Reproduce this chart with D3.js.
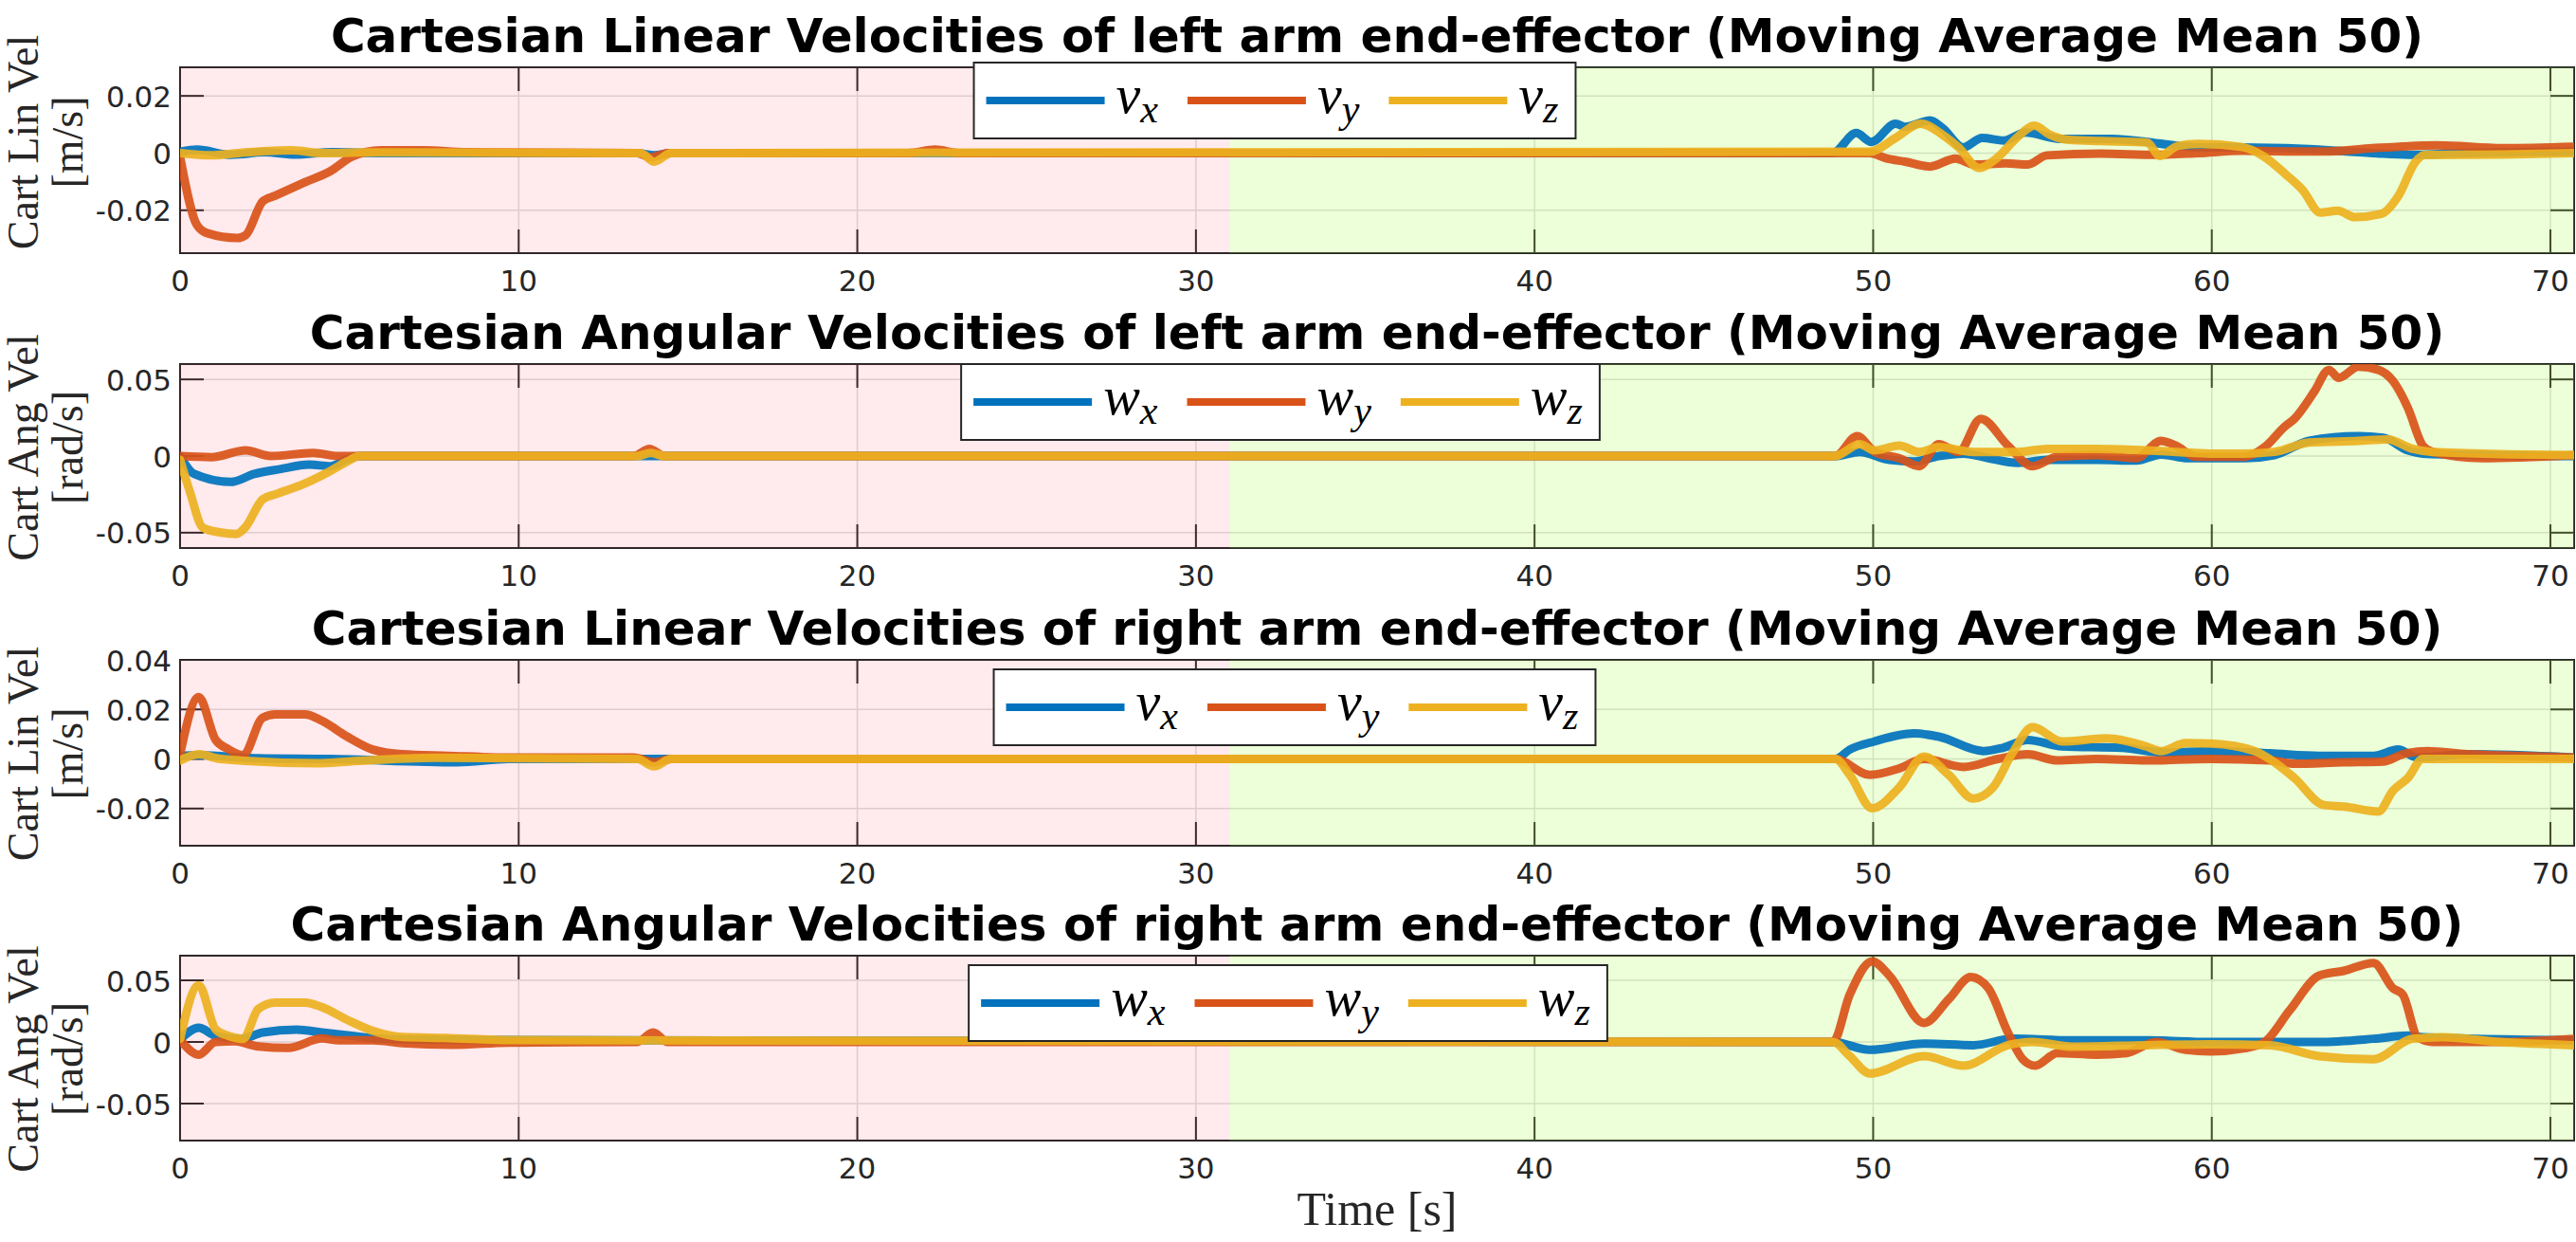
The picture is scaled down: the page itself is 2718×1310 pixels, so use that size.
<!DOCTYPE html>
<html><head><meta charset="utf-8">
<script src="https://cdn.jsdelivr.net/npm/d3@7"></script>
<style>
html,body{margin:0;padding:0;background:#fff;}
svg{display:block;}
</style></head>
<body>
<svg id="chart" width="2718" height="1310"></svg>
<script>
// ---------------- DATA ----------------
const panelTitles = [
  "Cartesian Linear Velocities of left arm end-effector (Moving Average Mean 50)",
  "Cartesian Angular Velocities of left arm end-effector (Moving Average Mean 50)",
  "Cartesian Linear Velocities of right arm end-effector (Moving Average Mean 50)",
  "Cartesian Angular Velocities of right arm end-effector (Moving Average Mean 50)"
];
const yLabelLine1 = ["Cart Lin Vel", "Cart Ang Vel", "Cart Lin Vel", "Cart Ang Vel"];
const yLabelLine2 = ["[m/s]", "[rad/s]", "[m/s]", "[rad/s]"];
const legendBase = ["v", "w", "v", "w"];
const legendSubs = ["x", "y", "z"];
const xDomain = [0, 70.7];
const xTicks = [0, 10, 20, 30, 40, 50, 60, 70];
const yDomains = [[-0.035, 0.03], [-0.06, 0.06], [-0.035, 0.04], [-0.08, 0.07]];
const yTicks = [[-0.02, 0, 0.02], [-0.05, 0, 0.05], [-0.02, 0, 0.02, 0.04], [-0.05, 0, 0.05]];
const yTickLabels = [["-0.02", "0", "0.02"], ["-0.05", "0", "0.05"], ["-0.02", "0", "0.02", "0.04"], ["-0.05", "0", "0.05"]];
const phaseStart = [0, 31];      // pink phase, green phase start times
const phaseEnd = [31, 70.7];

// left arm linear velocity [t, value]
const leftLinVx = [[0,0.0005],[0.5,0.0012],[1.5,-0.0006],[2.5,0.0003],[3.4,-0.0005],[4.5,0.0003],[6,0],[13.5,0],[14,-0.0008],[14.5,0],[30,0],[48.8,0],[49.5,0.007],[49.95,0.0039],[50.66,0.0103],[50.94,0.0092],[51.68,0.0114],[52.05,0.0087],[52.66,0.002],[53.22,0.0053],[53.86,0.0044],[54.5,0.0072],[55.52,0.005],[57.06,0.005],[58.34,0.0035],[59.62,0.002],[60.9,0.002],[62.69,0.0015],[64.74,0],[66.02,-0.0006],[67.3,0],[70.7,0.0006]];
const leftLinVy = [[0,-0.0013],[0.49,-0.025],[0.8,-0.028],[1.69,-0.0297],[1.94,-0.0287],[2.44,-0.0169],[2.81,-0.0149],[3.69,-0.0102],[4.44,-0.0063],[5.07,-0.0013],[5.94,0.001],[7.19,0.001],[8.44,0.0003],[13.5,0],[13.9,-0.0015],[14.4,0],[21.5,0],[22.3,0.0012],[23,0],[49.9,0],[50.4,-0.0019],[50.94,-0.003],[51.68,-0.0047],[52.43,-0.0019],[52.99,-0.004],[53.92,-0.0036],[54.57,-0.004],[55.13,-0.0008],[56.72,-0.0002],[58.34,-0.0006],[59.62,0],[60.9,0.0008],[62.18,0.0006],[63.46,0.0006],[64.74,0.0017],[66.66,0.0027],[68.58,0.0017],[70.7,0.0022]];
const leftLinVz = [[0,0],[0.9,-0.0008],[2,0.0003],[3.3,0.001],[4.2,0],[5.5,0.0002],[13.6,0],[14,-0.003],[14.5,0],[49.9,0.0005],[50.66,0.0053],[51.4,0.0103],[52.05,0.0064],[52.52,0.002],[53.13,-0.0052],[53.64,-0.0019],[54.29,0.0059],[54.76,0.0096],[55.22,0.0064],[55.79,0.0046],[56.72,0.0042],[58.08,0.0037],[58.47,-0.001],[59.0,0.0025],[59.62,0.0032],[60.9,0.0021],[61.54,-0.0012],[62.18,-0.0074],[62.69,-0.013],[63.2,-0.0208],[63.72,-0.0202],[64.23,-0.0224],[65.0,-0.0213],[65.5,-0.0152],[66.02,-0.003],[66.28,-0.0007],[68.58,-0.0005],[70.7,0]];

// left arm angular velocity
const leftAngWx = [[0,0],[0.42,-0.0117],[1.5,-0.0169],[2.19,-0.0117],[2.94,-0.0086],[3.81,-0.0056],[4.44,-0.0066],[4.94,-0.002],[5.31,0],[48.88,0],[49.6,0.0027],[50.48,-0.0025],[51.21,-0.0035],[51.94,0],[52.67,0.0016],[53.4,-0.0014],[54.27,-0.0045],[55.15,-0.0025],[56.6,-0.0025],[57.77,-0.003],[58.5,0.001],[59.3,-0.0014],[60.98,-0.0014],[61.85,0.0006],[62.87,0.0099],[64.33,0.013],[65.06,0.012],[65.79,0.0037],[66.23,0.0016],[68,0.0006],[70.7,0]];
const leftAngWy = [[0,0],[0.93,-0.0007],[1.93,0.0037],[2.68,0],[3.93,0.002],[4.68,0],[13.4,0],[13.86,0.0047],[14.3,0],[48.88,0],[49.53,0.013],[50.04,0.0027],[50.77,-0.0014],[51.36,-0.0066],[51.94,0.0078],[52.52,0.0027],[53.18,0.0243],[53.98,0.0068],[54.71,-0.0066],[55.44,-0.0004],[56.6,0.0006],[57.77,-0.0014],[58.5,0.0099],[58.94,0.0068],[59.52,-0.0004],[60.98,-0.0004],[61.56,0.0058],[62.15,0.0191],[62.44,0.0243],[63.02,0.0418],[63.46,0.0562],[63.75,0.051],[64.33,0.0583],[64.92,0.0562],[65.35,0.049],[65.79,0.0315],[66.23,0.0068],[66.52,0.0027],[67.98,-0.0014],[70.7,0.0006]];
const leftAngWz = [[0,-0.0025],[0.3,-0.024],[0.67,-0.0467],[1.17,-0.0498],[1.67,-0.0508],[1.92,-0.0467],[2.44,-0.0282],[2.81,-0.025],[3.69,-0.0179],[4.44,-0.0097],[4.94,-0.0035],[5.31,0],[13.5,0],[13.9,0.002],[14.3,0],[48.88,0],[49.6,0.0078],[50.04,0.0037],[50.77,0.0068],[51.36,0.0027],[51.94,0.0058],[52.96,0.0027],[54.27,0.0027],[55.15,0.0047],[56.6,0.0047],[58.06,0.0037],[58.94,0.0027],[59.96,0.0016],[60.98,0.0016],[61.85,0.0027],[62.87,0.0088],[64.33,0.0099],[65.2,0.0109],[65.93,0.0047],[66.52,0.0027],[70.7,0.0006]];

// right arm linear velocity
const rightLinVx = [[0,0.0013],[0.55,0.0015],[2.3,0.0003],[4.4,0],[8.2,-0.0013],[9.7,0],[48.88,0],[49.31,0.0038],[50.04,0.0071],[51.21,0.0103],[51.94,0.009],[53.25,0.0032],[53.83,0.0045],[54.56,0.0077],[55.58,0.0051],[57.33,0.0045],[58.65,0.0026],[59.96,0.0032],[61.71,0.0023],[63.17,0.0013],[64.78,0.0013],[65.5,0.0038],[66.08,0.0006],[67.54,0.0019],[70.7,0.0006]];
const rightLinVy = [[0,0.0019],[0.55,0.025],[1.05,0.0077],[1.42,0.004],[1.86,0.0015],[2.44,0.0167],[2.81,0.018],[3.69,0.018],[4.19,0.0154],[4.94,0.009],[5.69,0.0038],[6.56,0.0019],[7.9,0.0013],[9.68,0.0006],[13.4,0.0006],[14,-0.0013],[14.5,0],[48.88,0],[49.9,-0.0064],[50.77,-0.0038],[51.5,0],[52.67,-0.0032],[53.69,0],[54.56,0.0019],[55.44,-0.0006],[56.6,0],[58.06,-0.0006],[59.96,0],[61.71,-0.0006],[62.44,-0.0019],[63.9,-0.0013],[65.06,-0.001],[65.64,0.0019],[66.37,0.0032],[67.54,0.0019],[69.0,0.0013],[70.7,0.0006]];
const rightLinVz = [[0,-0.0006],[0.55,0.0019],[1.2,0],[4.06,-0.0017],[5,-0.001],[7.5,0.0005],[13.5,0],[14,-0.003],[14.5,0],[48.88,0],[49.31,-0.0064],[49.97,-0.0199],[50.77,-0.0115],[51.5,0.001],[52.23,-0.0064],[52.96,-0.016],[53.54,-0.0115],[54.12,0.0026],[54.71,0.0128],[55.58,0.0071],[56.89,0.0083],[58.06,0.0051],[58.5,0.0032],[59.23,0.0064],[59.96,0.0062],[61.27,0.0032],[61.85,-0.0013],[62.44,-0.0077],[63.31,-0.0186],[63.9,-0.0192],[64.92,-0.0212],[65.35,-0.0128],[65.79,-0.0077],[66.23,0],[70.7,0]];

// right arm angular velocity
const rightAngWx = [[0,0.0019],[0.55,0.0115],[1.05,0.005],[1.8,0.0025],[2.44,0.0077],[3.44,0.01],[4.19,0.0077],[5.07,0.005],[5.94,0.0025],[7.2,0.0019],[9.7,0.0015],[48.81,0],[49.9,-0.0064],[51.5,-0.0013],[52.96,-0.0026],[54.12,0.0026],[55.88,0.0013],[58.06,0.0013],[59.96,0],[61.71,0],[63.17,0],[64.78,0.0026],[65.79,0.0051],[66.23,0.0038],[70.7,0.0013]];
const rightAngWy = [[0,0.0019],[0.55,-0.0103],[1.05,0],[1.6,0.0005],[2.31,-0.0036],[3.19,-0.0049],[4.19,0.0028],[4.69,0.0013],[5.7,0.0013],[6.56,-0.001],[8.06,-0.0023],[9.7,-0.0005],[13.5,0],[13.97,0.0077],[14.4,0],[48.81,0],[49.31,0.0385],[49.97,0.0654],[50.48,0.0538],[51.5,0.0154],[52.23,0.0346],[52.88,0.0526],[53.4,0.0436],[53.98,0.0077],[54.42,-0.0141],[54.78,-0.0192],[55.44,-0.009],[56.6,-0.0103],[57.48,-0.009],[58.36,0],[59.23,-0.0064],[59.96,-0.0077],[60.98,-0.0051],[61.56,0],[62.3,0.0256],[63.17,0.0538],[63.9,0.0577],[64.78,0.0641],[65.35,0.0436],[65.64,0.0385],[66.08,0.0038],[66.52,0],[68.5,0],[70.7,0.0026]];
const rightAngWz = [[0,0.0025],[0.55,0.046],[1.05,0.0102],[1.42,0.005],[1.86,0.0025],[2.31,0.0269],[2.81,0.032],[3.69,0.032],[4.19,0.0282],[4.94,0.0179],[5.69,0.009],[6.56,0.004],[7.81,0.0033],[9.7,0.0015],[48.81,0],[49.31,-0.0115],[49.9,-0.0256],[51.5,-0.0115],[52.67,-0.0192],[53.98,-0.0026],[54.71,0],[55.88,-0.0038],[58.06,-0.0026],[59.96,-0.0019],[61.71,-0.0026],[63.17,-0.0115],[64.78,-0.0141],[65.93,0.0026],[66.81,0.0038],[68.5,0],[70.7,-0.0026]];

const panelSeries = [
  [leftLinVx, leftLinVy, leftLinVz],
  [leftAngWx, leftAngWy, leftAngWz],
  [rightLinVx, rightLinVy, rightLinVz],
  [rightAngWx, rightAngWy, rightAngWz]
];

// ---------------- STYLE / LAYOUT ----------------
const colors = ["#0072BD", "#D95319", "#EDB120"];
const phaseColors = ["rgba(255,60,90,0.11)", "rgba(160,255,60,0.2)"];
const plotLeft = 190, plotRight = 2716;
const panelTops = [71, 384, 696, 1008];
const panelBottoms = [267, 578, 892, 1203];
const yLabelCenters = [150, 472, 795, 1117];
const legendCenters = [[1345, 106], [1351, 424], [1366, 746], [1359, 1058]];
const axisColor = "#262626";

const svg = d3.select("#chart");
const x = d3.scaleLinear().domain(xDomain).range([plotLeft, plotRight]);

panelSeries.forEach((series, p) => {
  const top = panelTops[p], bottom = panelBottoms[p];
  const y = d3.scaleLinear().domain(yDomains[p]).range([bottom, top]);
  const g = svg.append("g");
  const clipId = "clip" + p;
  svg.append("clipPath").attr("id", clipId).append("rect")
    .attr("x", plotLeft).attr("y", top).attr("width", plotRight - plotLeft).attr("height", bottom - top);

  // grid
  g.append("g").selectAll("line").data(xTicks).join("line")
    .attr("x1", d => x(d)).attr("x2", d => x(d)).attr("y1", top).attr("y2", bottom)
    .attr("stroke", "#dcdcdc").attr("stroke-width", 1.5);
  g.append("g").selectAll("line").data(yTicks[p]).join("line")
    .attr("x1", plotLeft).attr("x2", plotRight).attr("y1", d => y(d)).attr("y2", d => y(d))
    .attr("stroke", "#dcdcdc").attr("stroke-width", 1.5);

  // box
  g.append("rect").attr("x", plotLeft).attr("y", top).attr("width", plotRight - plotLeft).attr("height", bottom - top)
    .attr("fill", "none").attr("stroke", axisColor).attr("stroke-width", 2);

  // ticks (inward) bottom/top and left/right
  const tl = 25;
  const tk = g.append("g").attr("stroke", axisColor).attr("stroke-width", 2);
  xTicks.forEach(t => {
    tk.append("line").attr("x1", x(t)).attr("x2", x(t)).attr("y1", bottom).attr("y2", bottom - tl);
    tk.append("line").attr("x1", x(t)).attr("x2", x(t)).attr("y1", top).attr("y2", top + tl);
  });
  yTicks[p].forEach(v => {
    tk.append("line").attr("x1", plotLeft).attr("x2", plotLeft + tl).attr("y1", y(v)).attr("y2", y(v));
    tk.append("line").attr("x1", plotRight).attr("x2", plotRight - tl).attr("y1", y(v)).attr("y2", y(v));
  });

  // phase backgrounds (semi-transparent, above box)
  g.append("g").selectAll("rect").data(phaseStart).join("rect")
    .attr("x", (d) => x(d)).attr("width", (d, i) => x(phaseEnd[i]) - x(d))
    .attr("y", top).attr("height", bottom - top)
    .attr("fill", (d, i) => phaseColors[i]);

  // tick labels
  g.append("g").selectAll("text").data(xTicks).join("text")
    .attr("x", d => x(d)).attr("y", bottom + 40)
    .attr("text-anchor", "middle").attr("font-family", "DejaVu Sans").attr("font-size", 31).attr("fill", axisColor)
    .text(d => d);
  g.append("g").selectAll("text").data(yTicks[p]).join("text")
    .attr("x", plotLeft - 9).attr("y", d => y(d) + 11.5)
    .attr("text-anchor", "end").attr("font-family", "DejaVu Sans").attr("font-size", 31).attr("fill", axisColor)
    .text((d, i) => yTickLabels[p][i]);

  // lines
  const line = d3.line().x(d => x(d[0])).y(d => y(d[1])).curve(d3.curveMonotoneX);
  const lg = g.append("g").attr("clip-path", `url(#${clipId})`);
  series.forEach((s, i) => {
    lg.append("path").datum(s).attr("d", line).attr("fill", "none")
      .attr("stroke", colors[i]).attr("stroke-width", 9).attr("stroke-linejoin", "round").attr("stroke-linecap", "round")
      .attr("opacity", 0.92);
  });

  // title
  svg.append("text").attr("x", (plotLeft + plotRight) / 2).attr("y", top - 16)
    .attr("text-anchor", "middle").attr("font-family", "DejaVu Sans").attr("font-weight", "bold").attr("font-size", 50)
    .attr("fill", "#000").text(panelTitles[p]);

  // y label (two lines, rotated)
  const cy = yLabelCenters[p];
  svg.append("text").attr("transform", `translate(40,${cy}) rotate(-90)`)
    .attr("text-anchor", "middle").attr("font-family", "Liberation Serif").attr("font-size", 46).attr("fill", axisColor)
    .text(yLabelLine1[p]);
  svg.append("text").attr("transform", `translate(87,${cy}) rotate(-90)`)
    .attr("text-anchor", "middle").attr("font-family", "Liberation Serif").attr("font-size", 46).attr("fill", axisColor)
    .text(yLabelLine2[p]);

  // legend
  const [lcx, lcy] = legendCenters[p];
  const leg = svg.append("g");
  const box = leg.append("rect").attr("fill", "#fff").attr("stroke", axisColor).attr("stroke-width", 2);
  let cursor = 0;
  legendSubs.forEach((sub, i) => {
    leg.append("line").attr("stroke", colors[i]).attr("stroke-width", 8)
      .attr("x1", cursor + 13).attr("x2", cursor + 138).attr("y1", lcy).attr("y2", lcy);
    const tx = leg.append("text").attr("x", cursor + 150).attr("y", lcy + 13)
      .attr("font-family", "Liberation Serif").attr("font-style", "italic").attr("font-size", 58).attr("fill", "#000");
    tx.append("tspan").text(legendBase[p]);
    tx.append("tspan").attr("font-size", 42).attr("dy", 10).text(sub);
    const w = tx.node().getComputedTextLength();
    cursor += 150 + w + 18;
  });
  const totalW = cursor;
  box.attr("x", 0).attr("y", lcy - 40).attr("width", totalW).attr("height", 80);
  leg.attr("transform", `translate(${lcx - totalW / 2},0)`);
});

// x label
svg.append("text").attr("x", (plotLeft + plotRight) / 2).attr("y", 1292)
  .attr("text-anchor", "middle").attr("font-family", "Liberation Serif").attr("font-size", 50).attr("fill", axisColor)
  .text("Time [s]");
</script>
</body></html>
